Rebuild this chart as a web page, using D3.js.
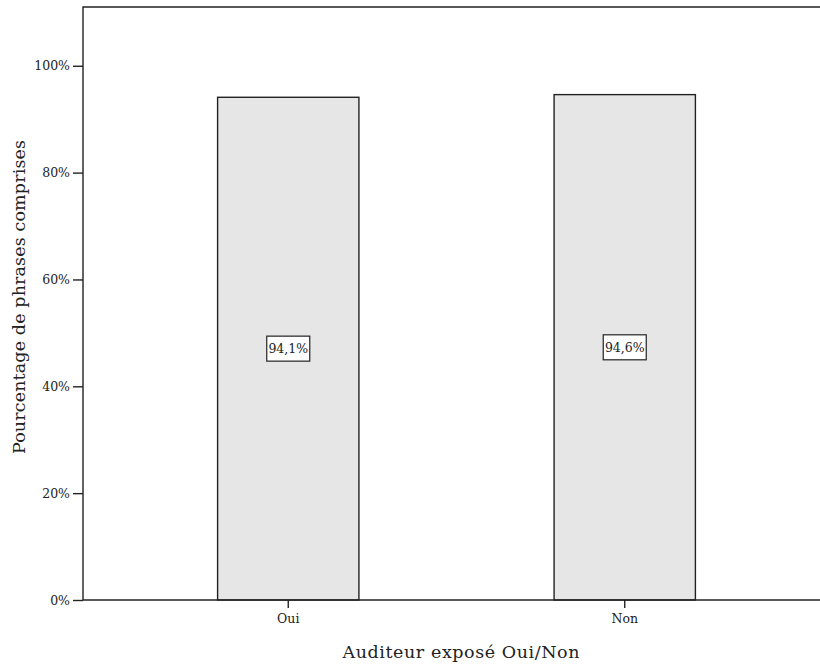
<!DOCTYPE html>
<html><head><meta charset="utf-8">
<script src="https://cdn.jsdelivr.net/npm/d3@7"></script>
<style>body{margin:0;background:#fff}svg{display:block}text{font-family:"DejaVu Serif","Liberation Serif",serif;fill:#222}</style>
</head><body>
<svg id="chart" width="820" height="667"></svg>
<script>
const categories = ["Oui", "Non"];
const values = [94.1, 94.6];
const valueLabels = ["94,1%", "94,6%"];
const yTicks = [0, 20, 40, 60, 80, 100];
const yTickLabels = ["0%", "20%", "40%", "60%", "80%", "100%"];
const xTitle = "Auditeur exposé Oui/Non";
const yTitle = "Pourcentage de phrases comprises";

(function () {
const svg = d3.select("#chart");
const mLeft = 83, mRight = 830, mTop = 7, mBottom = 600;
const x = d3.scaleBand().domain(categories).range([mLeft, mRight]).paddingInner(0.58).paddingOuter(0.40);
const y = d3.scaleLinear().domain([0, 111]).range([mBottom, mTop]);

// bars
svg.append("g").selectAll("rect").data(categories).join("rect")
  .attr("x", d => x(d)).attr("width", x.bandwidth())
  .attr("y", (d, i) => y(values[i])).attr("height", (d, i) => y(0) - y(values[i]))
  .attr("fill", "#e6e6e6").attr("stroke", "#222").attr("stroke-width", 1.4);

// frame (left, top)
svg.append("path").attr("d", `M${mLeft},${mBottom}V${mTop}H${mRight}`).attr("fill", "none").attr("stroke", "#222").attr("stroke-width", 1.4);

// y axis
const ya = svg.append("g").attr("transform", `translate(${mLeft},0)`)
  .call(d3.axisLeft(y).tickValues(yTicks).tickFormat((d, i) => yTickLabels[i]).tickSize(10).tickPadding(3));
ya.select(".domain").remove();
ya.selectAll(".tick line").attr("stroke", "#222").attr("stroke-width", 1.4);
ya.selectAll(".tick text").attr("font-size", 12.5).style("font-family", '"DejaVu Serif",serif').attr("fill", "#333");

// x axis
const xa = svg.append("g").attr("transform", `translate(0,${mBottom})`)
  .call(d3.axisBottom(x).tickSize(8).tickPadding(6));
xa.select(".domain").attr("stroke", "#222").attr("stroke-width", 1.4).attr("d", `M${mLeft},0H${mRight}`);
xa.selectAll(".tick line").attr("stroke", "#222").attr("stroke-width", 1.4);
xa.selectAll(".tick text").attr("font-size", 12.5).style("font-family", '"DejaVu Serif",serif').attr("fill", "#333");

// value labels
const lab = svg.append("g").selectAll("g").data(categories).join("g")
  .attr("transform", (d, i) => `translate(${x(d) + x.bandwidth() / 2},${y(values[i] / 2)})`);
lab.append("rect").attr("x", -21.5).attr("y", -12.5).attr("width", 43).attr("height", 25)
  .attr("fill", "#fff").attr("stroke", "#222").attr("stroke-width", 1.2);
lab.append("text").attr("text-anchor", "middle").attr("dy", "0.35em").attr("font-size", 12.5)
  .text((d, i) => valueLabels[i]);

// titles
svg.append("text").attr("x", 461).attr("y", 658).attr("text-anchor", "middle").attr("font-size", 17.5)
  .attr("textLength", 237).attr("lengthAdjust", "spacing").text(xTitle);
svg.append("text").attr("transform", "translate(25,297) rotate(-90)").attr("text-anchor", "middle").attr("font-size", 17.5)
  .attr("textLength", 314).attr("lengthAdjust", "spacing").text(yTitle);
})();
</script>
</body></html>
